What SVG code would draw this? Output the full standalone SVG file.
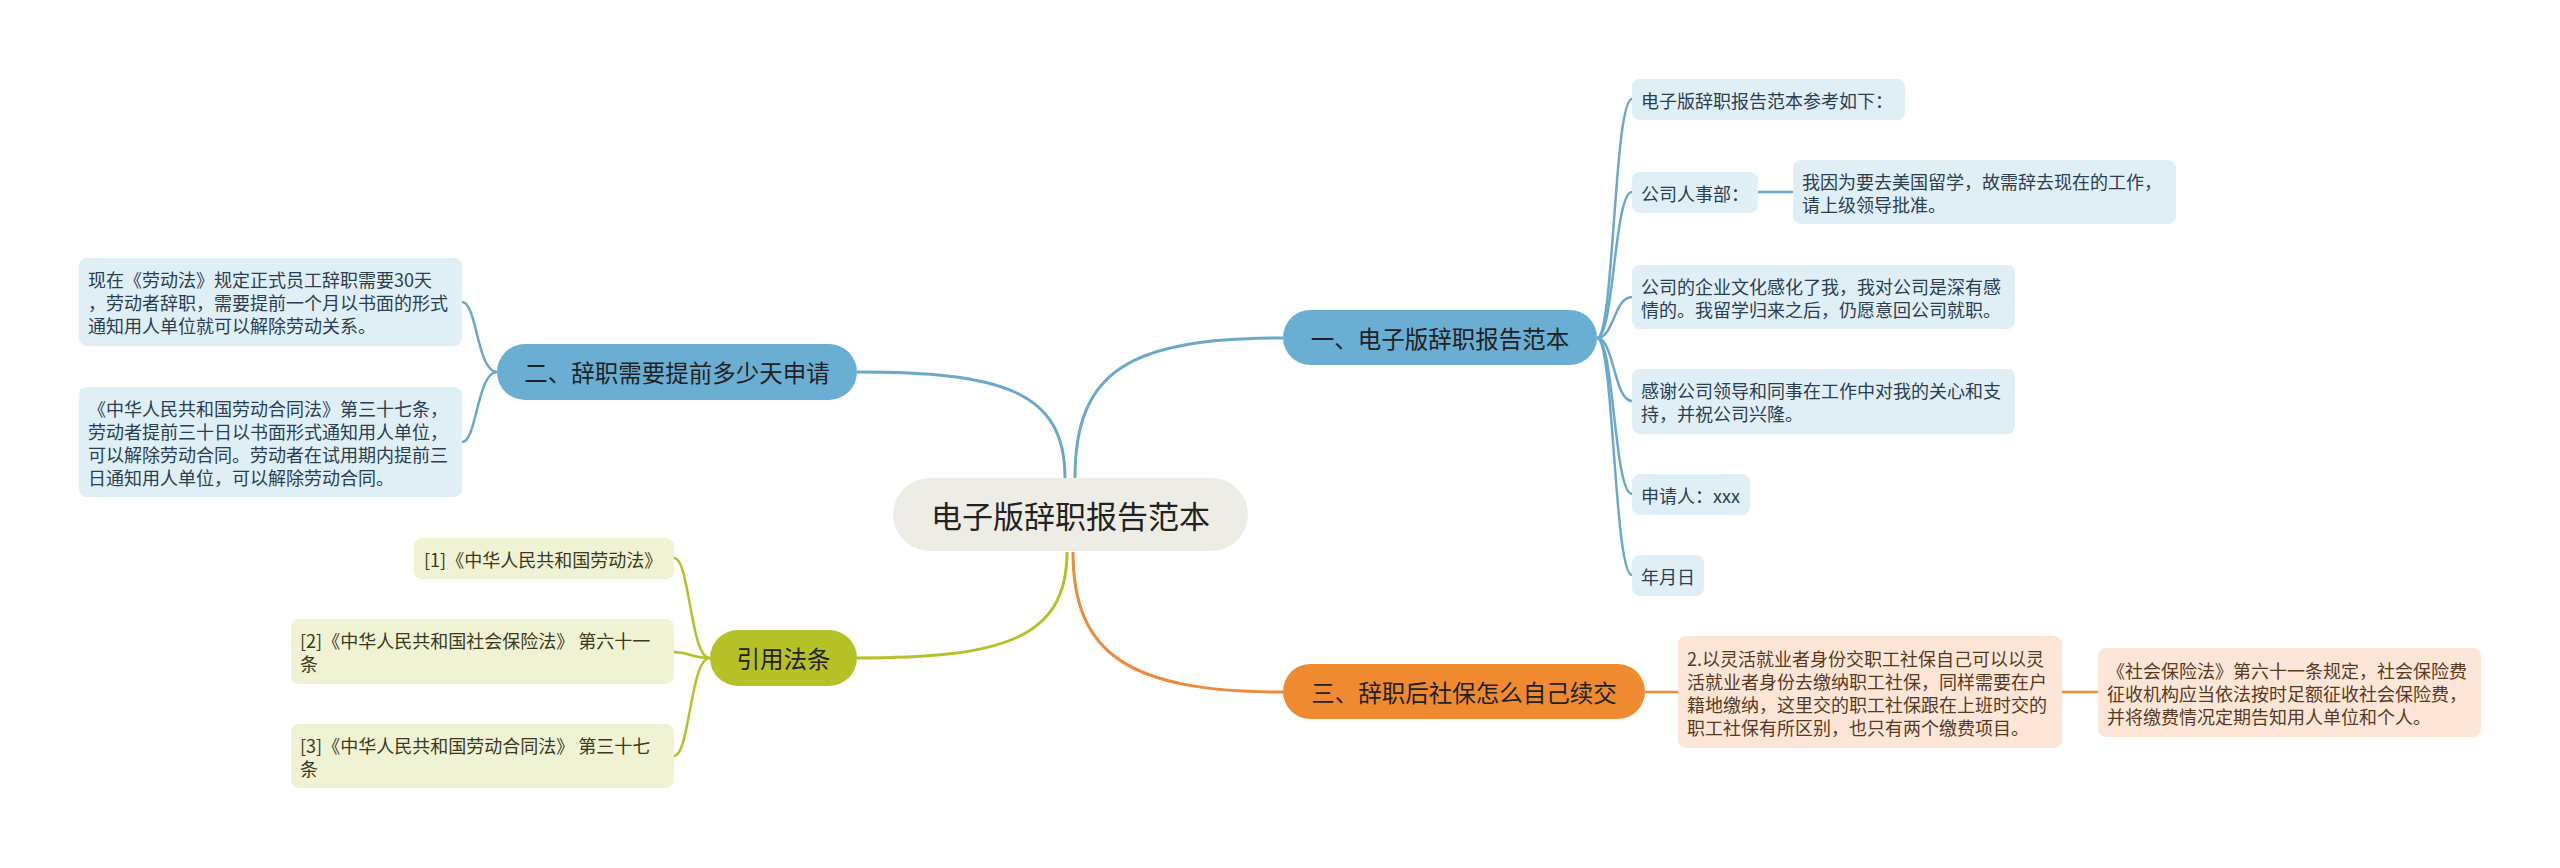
<svg xmlns="http://www.w3.org/2000/svg" width="2560" height="868" viewBox="0 0 2560 868">
<style>
text{font-family:"Noto Sans CJK SC","Noto Sans",sans-serif;dominant-baseline:central}
.ctr{fill:#eeede5}
.bb{fill:#6aaed3}.gb{fill:#b5c126}.ob{fill:#f08a30}
.bc{fill:#e0eef6}.gc{fill:#f0f2d4}.oc{fill:#fde6d8}
.t0{font-size:31px;fill:#222;text-anchor:middle}
.t1{font-size:23.5px;fill:#222;text-anchor:middle}
.tb{font-size:18px;fill:#2a3f50}
.tg{font-size:18px;fill:#3a3a20}
.to{font-size:18px;fill:#5a3a1e}
.lb{stroke:#6aa9cb;fill:none;stroke-width:3}
.lg{stroke:#b4c12a;fill:none;stroke-width:3}
.lo{stroke:#ee8a3a;fill:none;stroke-width:3}
.sb{stroke:#6aa9cb;fill:none;stroke-width:2.5}
.sg{stroke:#b4c12a;fill:none;stroke-width:2.5}
.so{stroke:#ee8a3a;fill:none;stroke-width:2.5}
</style>
<rect width="2560" height="868" fill="#ffffff"/>
<g id="connectors">
<path class="lb" d="M1075 478 C1075 370,1130 338,1283 338"/>
<path class="lb" d="M1065 478 C1065 390,1000 372,857 372"/>
<path class="lg" d="M1067 552 C1067 640,1000 658,857 658"/>
<path class="lo" d="M1073 552 C1073 655,1130 692,1283 692"/>
<path class="sb" d="M1597 338 C1614 338,1614 99,1632 99"/>
<path class="sb" d="M1597 338 C1614 338,1614 192,1632 192"/>
<path class="sb" d="M1597 338 C1614 338,1614 297,1632 297"/>
<path class="sb" d="M1597 338 C1614 338,1614 401,1632 401"/>
<path class="sb" d="M1597 338 C1614 338,1614 494,1632 494"/>
<path class="sb" d="M1597 338 C1614 338,1614 575,1632 575"/>
<path class="sb" d="M1758 192 H1793"/>
<path class="sb" d="M497 372 C477 372,477 302,462 302"/>
<path class="sb" d="M497 372 C477 372,477 442,462 442"/>
<path class="sg" d="M710 658 C690 658,690 558,674 558"/>
<path class="sg" d="M710 658 C690 658,690 652,674 652"/>
<path class="sg" d="M710 658 C690 658,690 756,674 756"/>
<path class="so" d="M1645 692 H1678"/>
<path class="so" d="M2062 692 H2098"/>
</g>
<g id="center">
<rect class="ctr" x="893" y="478" width="355" height="73" rx="36.5"/>
<text class="t0" x="1070.5" y="514.5">电子版辞职报告范本</text>
</g>
<g id="branch1">
<rect class="bb" x="1283" y="310" width="314" height="55" rx="27.5"/>
<text class="t1" x="1440" y="337.5">一、电子版辞职报告范本</text>
</g>
<g id="branch2">
<rect class="bb" x="497" y="344" width="360" height="56" rx="28"/>
<text class="t1" x="677" y="372">二、辞职需要提前多少天申请</text>
</g>
<g id="branch3">
<rect class="gb" x="710" y="630" width="147" height="56" rx="28"/>
<text class="t1" x="783.5" y="658">引用法条</text>
</g>
<g id="branch4">
<rect class="ob" x="1283" y="664" width="362" height="55" rx="27.5"/>
<text class="t1" x="1464" y="691.5">三、辞职后社保怎么自己续交</text>
</g>
<g id="b1c1">
<rect class="bc" x="1632" y="79" width="273" height="41" rx="8"/>
<text class="tb" x="1641" y="99.5">电子版辞职报告范本参考如下：</text>
</g>
<g id="b1c2">
<rect class="bc" x="1632" y="172" width="126" height="41" rx="8"/>
<text class="tb" x="1641" y="192.5">公司人事部：</text>
</g>
<g id="b1c2a">
<rect class="bc" x="1793" y="160" width="383" height="64" rx="8"/>
<text class="tb" x="1802" y="180.5">我因为要去美国留学，故需辞去现在的工作，</text>
<text class="tb" x="1802" y="203.5">请上级领导批准。</text>
</g>
<g id="b1c3">
<rect class="bc" x="1632" y="265" width="383" height="64" rx="8"/>
<text class="tb" x="1641" y="285.5">公司的企业文化感化了我，我对公司是深有感</text>
<text class="tb" x="1641" y="308.5">情的。我留学归来之后，仍愿意回公司就职。</text>
</g>
<g id="b1c4">
<rect class="bc" x="1632" y="369" width="383" height="65" rx="8"/>
<text class="tb" x="1641" y="390">感谢公司领导和同事在工作中对我的关心和支</text>
<text class="tb" x="1641" y="413">持，并祝公司兴隆。</text>
</g>
<g id="b1c5">
<rect class="bc" x="1632" y="474" width="118" height="41" rx="8"/>
<text class="tb" x="1641" y="494.5">申请人：xxx</text>
</g>
<g id="b1c6">
<rect class="bc" x="1632" y="555" width="72" height="41" rx="8"/>
<text class="tb" x="1641" y="575.5">年月日</text>
</g>
<g id="b2c1">
<rect class="bc" x="79" y="258" width="383" height="88" rx="8"/>
<text class="tb" x="88" y="279">现在《劳动法》规定正式员工辞职需要30天</text>
<text class="tb" x="88" y="302">，劳动者辞职，需要提前一个月以书面的形式</text>
<text class="tb" x="88" y="325">通知用人单位就可以解除劳动关系。</text>
</g>
<g id="b2c2">
<rect class="bc" x="79" y="387" width="383" height="110" rx="8"/>
<text class="tb" x="88" y="407.5">《中华人民共和国劳动合同法》第三十七条，</text>
<text class="tb" x="88" y="430.5">劳动者提前三十日以书面形式通知用人单位，</text>
<text class="tb" x="88" y="453.5">可以解除劳动合同。劳动者在试用期内提前三</text>
<text class="tb" x="88" y="476.5">日通知用人单位，可以解除劳动合同。</text>
</g>
<g id="b3c1">
<rect class="gc" x="414" y="538" width="260" height="41" rx="8"/>
<text class="tg" x="424" y="558.5">[1]《中华人民共和国劳动法》</text>
</g>
<g id="b3c2">
<rect class="gc" x="291" y="619" width="383" height="65" rx="8"/>
<text class="tg" x="300" y="640">[2]《中华人民共和国社会保险法》 第六十一</text>
<text class="tg" x="300" y="663">条</text>
</g>
<g id="b3c3">
<rect class="gc" x="291" y="724" width="383" height="64" rx="8"/>
<text class="tg" x="300" y="744.5">[3]《中华人民共和国劳动合同法》 第三十七</text>
<text class="tg" x="300" y="767.5">条</text>
</g>
<g id="b4c1">
<rect class="oc" x="1678" y="636" width="384" height="112" rx="8"/>
<text class="to" x="1687" y="657.5">2.以灵活就业者身份交职工社保自己可以以灵</text>
<text class="to" x="1687" y="680.5">活就业者身份去缴纳职工社保，同样需要在户</text>
<text class="to" x="1687" y="703.5">籍地缴纳，这里交的职工社保跟在上班时交的</text>
<text class="to" x="1687" y="726.5">职工社保有所区别，也只有两个缴费项目。</text>
</g>
<g id="b4c2">
<rect class="oc" x="2098" y="648" width="383" height="89" rx="8"/>
<text class="to" x="2107" y="669.5">《社会保险法》第六十一条规定，社会保险费</text>
<text class="to" x="2107" y="692.5">征收机构应当依法按时足额征收社会保险费，</text>
<text class="to" x="2107" y="715.5">并将缴费情况定期告知用人单位和个人。</text>
</g>
</svg>
